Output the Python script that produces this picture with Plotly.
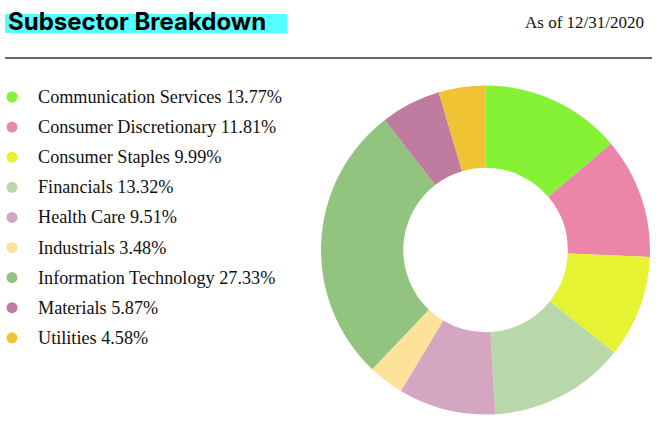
import plotly.graph_objects as go

sectors = ["Communication Services", "Consumer Discretionary", "Consumer Staples",
           "Financials", "Health Care", "Industrials", "Information Technology",
           "Materials", "Utilities"]
weights = [13.77, 11.81, 9.99, 13.32, 9.51, 3.48, 27.33, 5.87, 4.58]
colors = ["#86F236", "#EC85AA", "#E6F333", "#B8D8AA", "#D5A6C1",
          "#FDE29C", "#93C47F", "#C07BA0", "#F0C334"]
title_text = "Subsector Breakdown"
date_text = "As of 12/31/2020"

W, H = 662, 427

def px(x):
    return x / W

def py(y):
    return 1 - y / H

fig = go.Figure()
fig.add_trace(go.Pie(
    labels=sectors, values=weights, sort=False, direction="clockwise", rotation=0,
    hole=0.5, marker=dict(colors=colors, line=dict(width=0)),
    textinfo="none", hoverinfo="label+value", showlegend=False,
    domain=dict(x=[px(321), px(650)], y=[py(415), py(85)]),
))

shapes = [
    dict(type="rect", xref="paper", yref="paper", x0=px(5), x1=px(287), y0=py(33), y1=py(14),
         fillcolor="#55FFFF", line=dict(width=0), layer="below"),
    dict(type="line", xref="paper", yref="paper", x0=px(5), x1=px(652), y0=py(58), y1=py(58),
         line=dict(color="#333333", width=1.5)),
]
annotations = [
    dict(text="<b>" + title_text + "</b>", xref="paper", yref="paper", x=px(6), y=py(21.5),
         xanchor="left", yanchor="middle", showarrow=False,
         font=dict(family="Inter", size=24, color="#000000")),
    dict(text=date_text, xref="paper", yref="paper", x=px(646), y=py(22),
         xanchor="right", yanchor="middle", showarrow=False,
         font=dict(family="Liberation Serif", size=17, color="#111111")),
]
for i, (s, w, c) in enumerate(zip(sectors, weights, colors)):
    yc = 97 + i * 30.1
    shapes.append(dict(type="circle", xref="paper", yref="paper",
                       x0=px(6.5), x1=px(17.5), y0=py(yc + 5.5), y1=py(yc - 5.5),
                       fillcolor=c, line=dict(width=0)))
    annotations.append(dict(text=f"{s} {w:.2f}%", xref="paper", yref="paper",
                            x=px(36), y=py(yc), xanchor="left", yanchor="middle",
                            showarrow=False,
                            font=dict(family="Liberation Serif", size=18.2, color="#111111")))

fig.update_layout(width=W, height=H, margin=dict(l=0, r=0, t=0, b=0),
                  paper_bgcolor="white", plot_bgcolor="white",
                  shapes=shapes, annotations=annotations)
fig.write_html("out.html", config={"displayModeBar": False},
               post_script="document.body.style.margin='0';document.body.style.overflow='hidden';")
